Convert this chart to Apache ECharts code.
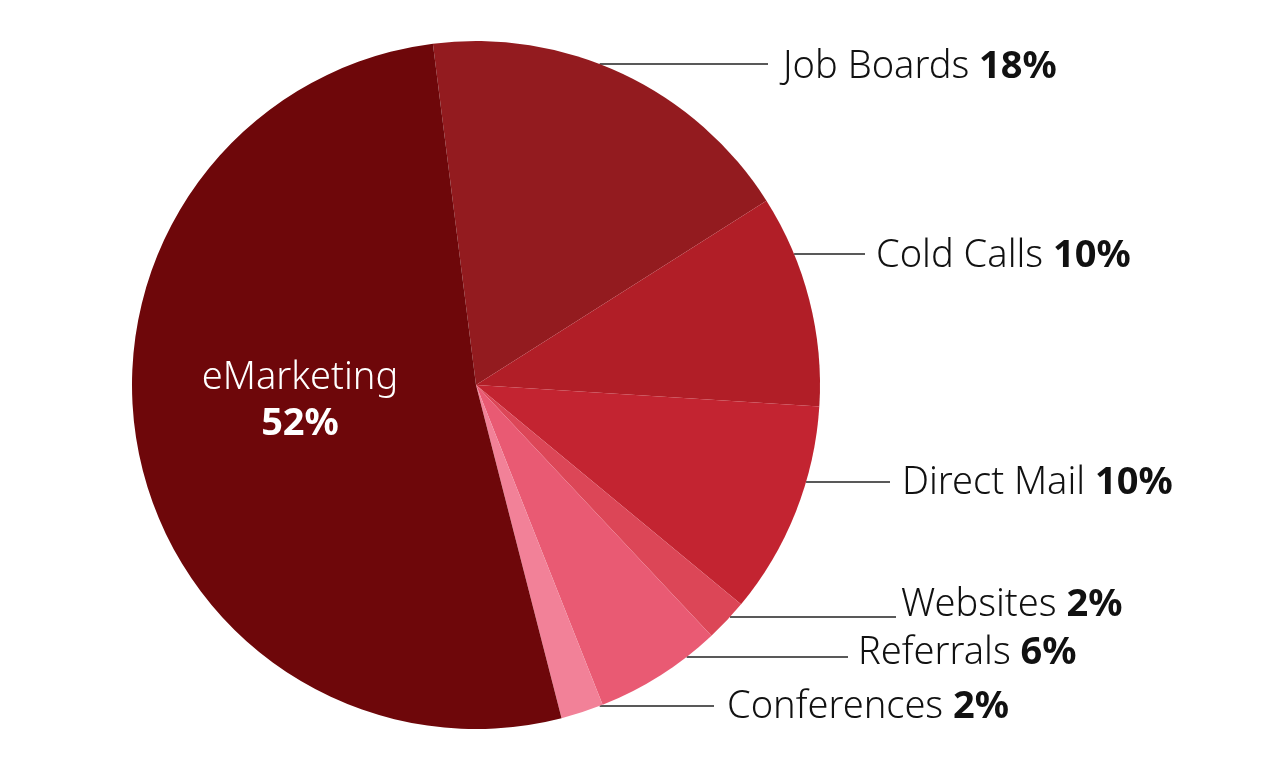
<!DOCTYPE html>
<html>
<head>
<meta charset="utf-8">
<script src="https://cdn.jsdelivr.net/npm/echarts@6/dist/echarts.min.js"></script>
<style>
html,body{margin:0;padding:0;background:#fff;}
#chart{width:1276px;height:780px;}
</style>
</head>
<body>
<div id="chart"></div>
<script>
// Data
const categories = ['Job Boards', 'Cold Calls', 'Direct Mail', 'Websites', 'Referrals', 'Conferences', 'eMarketing'];
const values = [18, 10, 10, 2, 6, 2, 52];

// Styling
const colors = ['#931b1f', '#b11e27', '#c32431', '#dc4657', '#e95a73', '#f28198', '#6e070a'];
// label placement: [lineY, lineEndX, textX, textY]
const labelSpots = [
  [64, 768, 783, 67],
  [254, 865, 876, 256],
  [482, 890, 902, 483],
  [617, 896, 901, 605],
  [657, 848, 858, 653],
  [706, 714, 727, 707],
  null
];
const CX = 476, CY = 385, R = 344;
const FONT = 'Noto Sans';
const FS = 38;

const chart = echarts.init(document.getElementById('chart'));
chart.setOption({
  animation: false,
  series: [{
    type: 'pie',
    center: [CX, CY],
    radius: [0, R],
    startAngle: 97.2,
    clockwise: true,
    avoidLabelOverlap: false,
    emphasis: { disabled: true },
    itemStyle: { borderWidth: 0 },
    label: {
      show: true,
      fontFamily: FONT,
      fontSize: FS,
      formatter: p => p.dataIndex === 6
        ? '{w|' + p.name + '}\n{wb|' + p.value + '%}'
        : '{n|' + p.name + ' }{b|' + p.value + '%}',
      rich: {
        n: { fontFamily: FONT, fontSize: FS, fontWeight: 300, color: '#111' },
        b: { fontFamily: FONT, fontSize: FS, fontWeight: 'bold', color: '#111' },
        w: { fontFamily: FONT, fontSize: FS, fontWeight: 300, color: '#fff', lineHeight: 46, align: 'center' },
        wb: { fontFamily: FONT, fontSize: FS, fontWeight: 'bold', color: '#fff', lineHeight: 46, align: 'center' }
      }
    },
    labelLine: { show: true, lineStyle: { color: '#222', width: 1.5 } },
    labelLayout: function (params) {
      const i = params.dataIndex;
      const s = labelSpots[i];
      if (!s) {
        return { x: 300, y: 401, align: 'center', verticalAlign: 'middle' };
      }
      const dy = s[0] - CY;
      const edgeX = CX + Math.sqrt(R * R - dy * dy);
      return {
        x: s[2], y: s[3], align: 'left', verticalAlign: 'middle',
        labelLinePoints: [[edgeX, s[0]], [edgeX, s[0]], [s[1], s[0]]]
      };
    },
    data: categories.map((c, i) => ({
      name: c,
      value: values[i],
      itemStyle: { color: colors[i] },
      labelLine: i === 6 ? { show: false } : undefined
    }))
  }]
});
</script>
</body>
</html>
